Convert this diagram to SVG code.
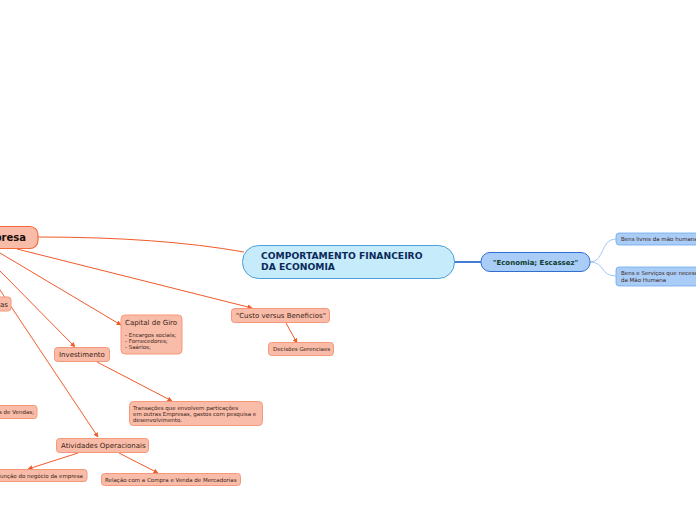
<svg xmlns="http://www.w3.org/2000/svg" width="696" height="520" viewBox="0 0 696 520">
<defs>
<marker id="ah" viewBox="0 0 10 10" refX="9" refY="5" markerWidth="5" markerHeight="5" orient="auto"><path d="M0,0 L10,5 L0,10 z" fill="#f25a2a"/></marker>
<style>
.o{fill:#f9bca8;stroke:#f7977a;stroke-width:1}
.ob{fill:#f9bca8;stroke:#f26b3a;stroke-width:1.2}
.b{fill:#a9cdf7;stroke:#6fa8ee;stroke-width:0.8}
.t{font-family:"DejaVu Sans",Verdana,sans-serif;fill:#3a2418}
.ln{stroke:#f25a2a;stroke-width:1;fill:none}
.lb{stroke:#8ab8ee;stroke-width:0.8;fill:none}
</style>
</defs>
<rect width="696" height="520" fill="#ffffff"/>
<g id="connectors">
<path class="ln" d="M38,237 Q160,237 244,252" stroke-width="1.4"/>
<line class="ln" x1="17" y1="249" x2="252" y2="308" marker-end="url(#ah)"/>
<line class="ln" x1="0" y1="253" x2="121" y2="325" marker-end="url(#ah)"/>
<line class="ln" x1="0" y1="271" x2="75" y2="347" marker-end="url(#ah)"/>
<line class="ln" x1="-10" y1="275" x2="98" y2="437" marker-end="url(#ah)"/>
<line class="ln" x1="286" y1="323" x2="297" y2="343" marker-end="url(#ah)"/>
<line class="ln" x1="97" y1="362" x2="172" y2="401" marker-end="url(#ah)"/>
<line class="ln" x1="78" y1="453" x2="28" y2="469" marker-end="url(#ah)"/>
<line class="ln" x1="119" y1="453" x2="158" y2="473" marker-end="url(#ah)"/>
<line x1="454" y1="262" x2="481" y2="262" stroke="#2f6fd1" stroke-width="1.8"/>
<path class="lb" d="M590,262 C605,262 600,239 616,239"/>
<path class="lb" d="M590,262 C605,262 600,276 616,276"/>
</g>
<g id="center">
<rect x="242.5" y="245.5" width="212" height="33" rx="16" fill="#c6ebfb" stroke="#4a9fd8" stroke-width="1"/>
<text class="t" x="261" y="259" font-size="9.2" font-weight="bold" style="fill:#0b2a5a">COMPORTAMENTO FINANCEIRO</text>
<text class="t" x="261" y="270" font-size="9.2" font-weight="bold" style="fill:#0b2a5a">DA ECONOMIA</text>
</g>
<g id="empresa">
<rect x="-40" y="226.5" width="78" height="22" rx="8" class="ob"/>
<text class="t" x="26" y="241" font-size="10" font-weight="bold" text-anchor="end" style="fill:#1a0e08">Empresa</text>
</g>
<g id="economia">
<rect x="481" y="252.5" width="109" height="19" rx="9" fill="#a9cdf7" stroke="#2f6fd1" stroke-width="1"/>
<text class="t" x="535.5" y="265" font-size="7" font-weight="bold" text-anchor="middle" style="fill:#0d3b2e">"Economia; Escassez"</text>
</g>
<g id="bens-livres">
<rect x="616" y="233" width="90" height="12" rx="3" class="b"/>
<text class="t" x="621" y="241" font-size="5.5">Bens livres da mão humana</text>
</g>
<g id="bens-servicos">
<rect x="616" y="267" width="90" height="19" rx="3" class="b"/>
<text class="t" x="621" y="275" font-size="5.5">Bens e Serviços que necessitam</text>
<text class="t" x="621" y="282" font-size="5.5">da Mão Humana</text>
</g>
<g id="as">
<rect x="-6" y="297" width="17" height="14" rx="3" class="o"/>
<text class="t" x="8" y="307" font-size="7" text-anchor="end">Vendas</text>
</g>
<g id="capital">
<rect x="121" y="315" width="61" height="39" rx="4" class="o"/>
<text class="t" x="125" y="324.5" font-size="7">Capital de Giro</text>
<text class="t" x="125" y="337" font-size="5.5">- Encargos sociais;</text>
<text class="t" x="125" y="343" font-size="5.5">- Fornecedores;</text>
<text class="t" x="125" y="349" font-size="5.5">- Saários;</text>
</g>
<g id="custo">
<rect x="231.5" y="308.5" width="98" height="14" rx="3" class="o"/>
<text class="t" x="236" y="318" font-size="7">"Custo versus Beneficios"</text>
</g>
<g id="decisoes">
<rect x="268.5" y="342.5" width="65" height="13" rx="3" class="o"/>
<text class="t" x="273" y="351" font-size="5.5">Decisões Gerenciaes</text>
</g>
<g id="investimento">
<rect x="54.5" y="347.5" width="55" height="14" rx="3" class="o"/>
<text class="t" x="59" y="357" font-size="7">Investimento</text>
</g>
<g id="transacoes">
<rect x="129.5" y="401.5" width="133" height="24" rx="4" class="o"/>
<text class="t" x="133" y="409.5" font-size="5.5">Transações que envolvem particações</text>
<text class="t" x="133" y="415.5" font-size="5.5">em outras Empresas, gastos com pesquisa e</text>
<text class="t" x="133" y="421.5" font-size="5.5">desenvolvimento.</text>
</g>
<g id="vendas">
<rect x="-6" y="405.5" width="43" height="13" rx="3" class="o"/>
<text class="t" x="34" y="414" font-size="5.5" text-anchor="end">Despesas de Vendas;</text>
</g>
<g id="atividades">
<rect x="56.5" y="438.5" width="92" height="14" rx="3" class="o"/>
<text class="t" x="61" y="448" font-size="7">Atividades Operacionais</text>
</g>
<g id="funcao">
<rect x="-6" y="469.5" width="93" height="12" rx="3" class="o"/>
<text class="t" x="83" y="477.5" font-size="5.5" text-anchor="end">Em função do negócio da empresa</text>
</g>
<g id="relacao">
<rect x="101.5" y="473.5" width="139" height="12" rx="3" class="o"/>
<text class="t" x="105" y="481.5" font-size="5.5">Relação com a Compra e Venda de Mercadorias</text>
</g>
</svg>
